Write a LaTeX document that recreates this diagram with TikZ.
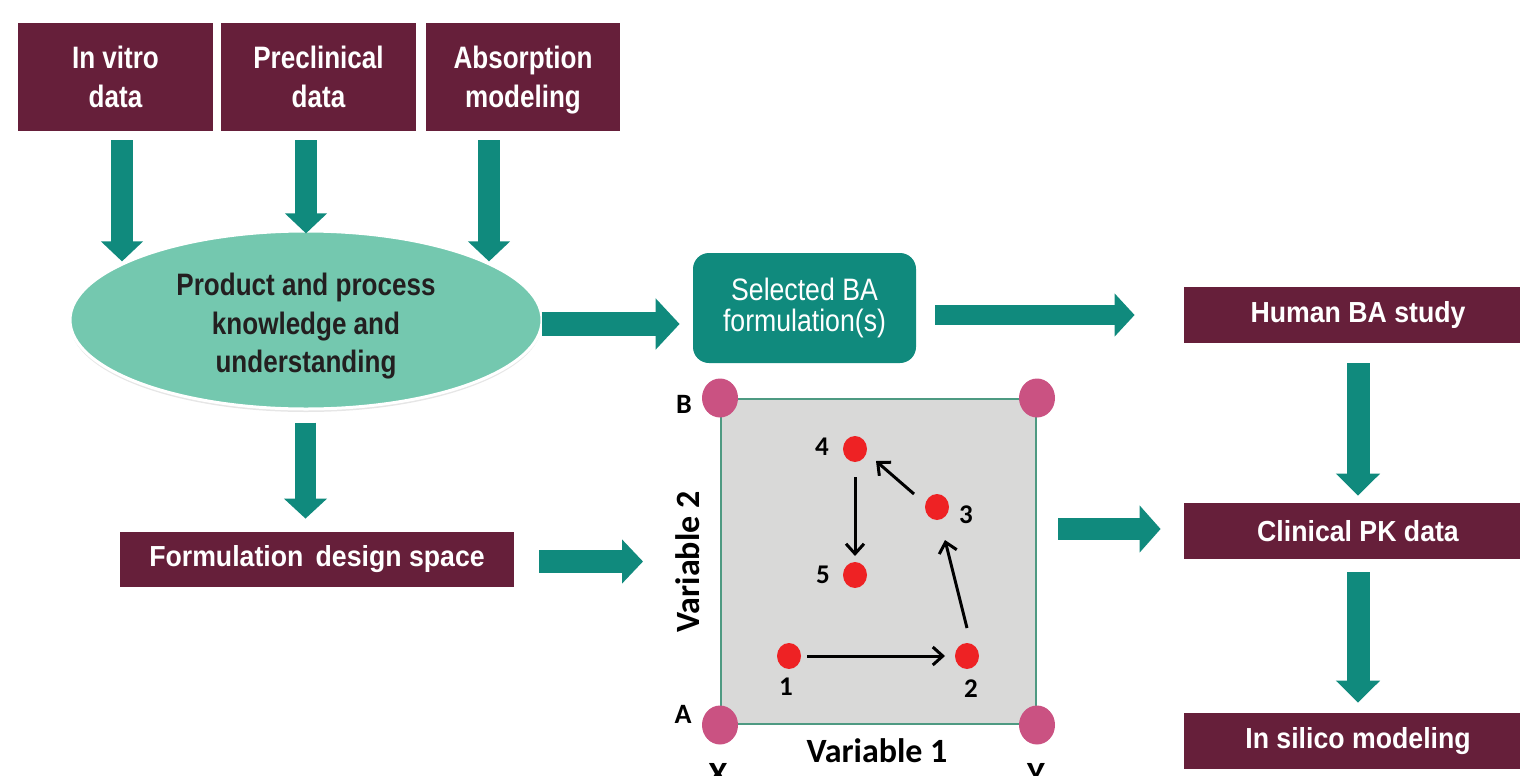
\documentclass[tikz,border=0pt]{standalone}
\usepackage{fontspec}
\usetikzlibrary{arrows.meta,shapes.geometric,shadows,calc}

% condensed sans faces for the labels
\newfontfamily\nbold{Liberation Sans}[FakeStretch=0.84]
\newfontfamily\nboldw{Liberation Sans}[FakeStretch=0.92]
\newfontfamily\nreg{Liberation Sans}[FakeStretch=0.86]
\newfontfamily\carl{Carlito}

\definecolor{boxmaroon}{RGB}{102,31,58}
\definecolor{flowteal}{RGB}{16,138,125}
\definecolor{ellfill}{RGB}{116,200,175}
\definecolor{inktext}{RGB}{35,31,32}
\definecolor{spacegray}{RGB}{217,217,216}
\definecolor{spaceedge}{RGB}{78,154,130}
\definecolor{cornerpink}{RGB}{202,82,130}
\definecolor{dotred}{RGB}{238,34,36}

\begin{document}
\begin{tikzpicture}[x=0.5pt,y=-0.5pt,
  srcbox/.style={rectangle, fill=boxmaroon, text=white, inner sep=0pt,
    minimum width=97.5pt, minimum height=54pt, align=center, text depth=0pt,
    font=\nbold\bfseries\fontsize{15.5}{19.5}\selectfont},
  widebox/.style={rectangle, fill=boxmaroon, text=white, inner sep=0pt,
    minimum width=174pt, minimum height=28pt, align=center,
    font=\nboldw\bfseries\fontsize{14.5}{17}\selectfont},
  fat/.style n args={3}{draw=flowteal, line width=#1,
    -{Triangle[length=#3,width=#2]}},
  corner/.style={ellipse, fill=cornerpink, inner sep=0pt,
    minimum width=18pt, minimum height=19.5pt},
  dot/.style={ellipse, fill=dotred, inner sep=0pt,
    minimum width=12pt, minimum height=13pt},
  ptarrow/.style={draw=black, line width=1.5pt,
    -{Straight Barb[length=5pt,width=9pt]}},
  lab/.style={inner sep=0pt, text=black, font=\carl\bfseries\fontsize{14}{16}\selectfont},
  numlab/.style={inner sep=0pt, text=black, font=\carl\bfseries\fontsize{13.5}{15}\selectfont},
  axis/.style={inner sep=0pt, text=black, font=\carl\bfseries\fontsize{17}{19}\selectfont}
]
\useasboundingbox (0,0) rectangle (1520,776);

% source boxes
\node[srcbox] (ivd) at (115.5,77) {In vitro\\data};
\node[srcbox] (pre) at (318.5,77) {Preclinical\\data};
\node[srcbox, minimum width=97pt] (abs) at (523,77) {Absorption\\modeling};

% knowledge ellipse with its text set separately
\node[ellipse, fill=ellfill, draw=white, line width=1.5pt, inner sep=0pt,
  minimum width=236pt, minimum height=89pt,
  drop shadow={shadow xshift=0pt, shadow yshift=-1.5pt, opacity=0.2}]
  (pk) at (306,320) {};
\node[inner sep=0pt, text=inktext, align=center, text depth=0pt,
  font=\nbold\bfseries\fontsize{15.5}{19.25}\selectfont]
  (pktext) at (306,323) {Product and process\\knowledge and\\understanding};

% selected formulation
\node[rectangle, rounded corners=8pt, fill=flowteal, text=white, inner sep=0pt,
  minimum width=111.5pt, minimum height=55pt, align=center,
  font=\nreg\fontsize{15.5}{15.5}\selectfont]
  (sel) at (804.5,308) {Selected BA\\formulation(s)};

% right column
\node[widebox] (hba) at (1358,315) {Human BA study};
\node[widebox] (cpk) at (1358,531) {Clinical PK data};
\node[widebox] (isl) at (1358,741) {In silico modeling};

% design space box
\node[widebox, minimum width=197pt, minimum height=27.5pt] (fds) at (317,559.5)
  {Formulation\, design space};

% design space square
\node[rectangle, fill=spacegray, draw=spaceedge, line width=1pt, inner sep=0pt,
  minimum width=157.5pt, minimum height=162.5pt] (sq) at (878.5,561.5) {};
\node[corner] (cb) at (sq.north west) {};
\node[corner] (ctr) at (sq.north east) {};
\node[corner] (ca) at (sq.south west) {};
\node[corner] (cbr) at (sq.south east) {};

\node[lab] (lb) at (684,404) {B};
\node[lab] (la) at (683,714) {A};
\node[axis, rotate=90] (v2) at (688,562) {Variable 2};
\node[axis] (v1) at (877,751) {Variable 1};
\node[axis, anchor=north] (lx) at (718,763) {X};
\node[axis, anchor=north] (ly) at (1036,763) {Y};

% experimental points
\node[dot] (d1) at (789,656) {};
\node[dot] (d2) at (967,656) {};
\node[dot] (d3) at (937,507) {};
\node[dot] (d4) at (855,449) {};
\node[dot] (d5) at (855,575) {};
\node[numlab] (n1) at (786,687) {1};
\node[numlab] (n2) at (971,689) {2};
\node[numlab] (n3) at (966,515) {3};
\node[numlab] (n4) at (822,447) {4};
\node[numlab] (n5) at (823,575) {5};

\draw[ptarrow] ($(d1)+(18,0)$) -- ($(d2)+(-22,0)$);
\draw[ptarrow] ($(d2)+(0,-28)$) -- ($(d3)+(8,33)$);
\draw[ptarrow] ($(d3)+(-23,-13)$) -- ($(d4)+(21,12)$);
\draw[ptarrow] ($(d4)+(0,28)$) -- ($(d5)+(0,-19)$);

% flow arrows
\draw[fat={11pt}{20.5pt}{10pt}] ($(ivd.south)+(6.5,9)$) -- ($(ivd.south)+(6.5,130)$);
\draw[fat={11pt}{20.5pt}{10pt}] ($(pre.south)+(-12.5,9)$) -- ($(pre.south)+(-12.5,102)$);
\draw[fat={11pt}{20.5pt}{10pt}] ($(abs.south)+(-34,9)$) -- ($(abs.south)+(-34,130)$);
\draw[fat={12pt}{25pt}{12pt}] ($(pk.east)+(-2,4)$) -- ($(sel.west)+(-13,16)$);
\draw[fat={10pt}{21pt}{10pt}] ($(sel.east)+(19,7)$) -- ($(hba.west)+(-49,0)$);
\draw[fat={10.5pt}{21pt}{10pt}] ($(pk.south)+(-0.5,12)$) -- ($(fds.north)+(-11.5,-13)$);
\draw[fat={11.5pt}{21.5pt}{10.5pt}] ($(fds.east)+(25,2)$) -- ($(sq.west)+(-77,0)$);
\draw[fat={11pt}{23pt}{10.5pt}] ($(sq.east)+(21,-32.5)$) -- ($(cpk.west)+(-23,-2)$);
\draw[fat={11.5pt}{21.5pt}{11pt}] ($(hba.south)+(0,20)$) -- ($(cpk.north)+(0,-7)$);
\draw[fat={11.5pt}{21.5pt}{11pt}] ($(cpk.south)+(0,13)$) -- ($(isl.north)+(0,-10)$);
\end{tikzpicture}
\end{document}
